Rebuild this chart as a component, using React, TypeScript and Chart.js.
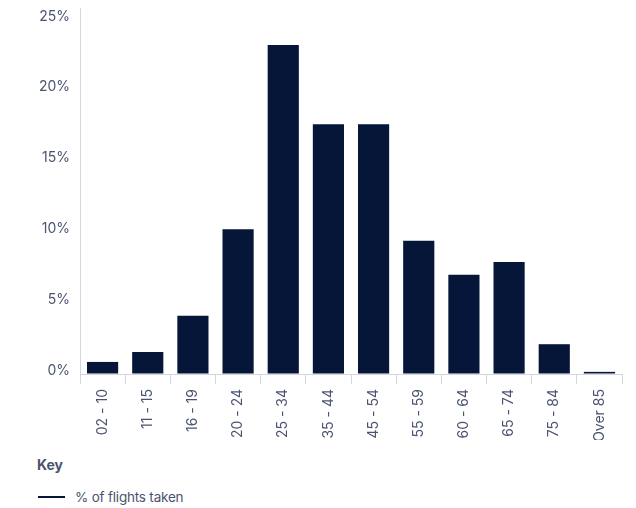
import React, { useEffect, useRef } from "react";
import { Chart, registerables } from "chart.js";

Chart.register(...registerables);

const categories = ["02 - 10", "11 - 15", "16 - 19", "20 - 24", "25 - 34", "35 - 44", "45 - 54", "55 - 59", "60 - 64", "65 - 74", "75 - 84", "Over 85"];
const flightShare = [0.85, 1.55, 4.1, 10.2, 23.2, 17.6, 17.6, 9.4, 7.0, 7.9, 2.1, 0.15];
const yTicks = [0, 5, 10, 15, 20, 25];
const seriesLabel = "% of flights taken";

const NAVY = "#051638";
const TEXT = "#4b5370";
const GRID = "#d3d6de";
const FONT = "Inter, 'Noto Sans', sans-serif";

export default function App() {
  const ref = useRef<HTMLCanvasElement>(null);
  useEffect(() => {
    const chart = new Chart(ref.current!, {
      type: "bar",
      data: {
        labels: categories,
        datasets: [
          {
            label: seriesLabel,
            data: flightShare,
            backgroundColor: NAVY,
            barPercentage: 0.69,
            categoryPercentage: 1,
          },
        ],
      },
      options: {
        animation: false,
        responsive: false,
        maintainAspectRatio: false,
        layout: { padding: { top: 8, right: 14, left: 0, bottom: 0 } },
        plugins: { legend: { display: false }, tooltip: { enabled: false } },
        scales: {
          x: {
            grid: { display: true, drawOnChartArea: false, drawTicks: true, tickLength: 10, color: GRID, offset: true },
            border: { display: true, color: GRID, width: 1 },
            ticks: { color: TEXT, font: { family: FONT, size: 14 }, maxRotation: 90, minRotation: 90, padding: 5, autoSkip: false },
            afterFit: (s: any) => { s.height = 66; },
          },
          y: {
            min: 0,
            max: 25.8,
            grid: { display: true, drawOnChartArea: false, drawTicks: false, color: GRID },
            border: { display: true, color: GRID, width: 1 },
            afterBuildTicks: (s: any) => { s.ticks = yTicks.map((v) => ({ value: v })); },
            ticks: { color: TEXT, font: { family: FONT, size: 14 }, padding: 10, labelOffset: -3, callback: (v: any) => v + "%" },
            afterFit: (s: any) => { s.width = 80; s.paddingTop = 0; },
          },
        },
      },
    });
    return () => chart.destroy();
  }, []);

  return (
    <div style={{ position: "absolute", left: 0, top: 0, width: 636, height: 508, background: "#fff", fontFamily: FONT }}>
      <canvas ref={ref} width={636} height={440} style={{ display: "block" }} />
      <div style={{ position: "absolute", left: 37, top: 456, fontSize: 14, fontWeight: 700, color: TEXT }}>Key</div>
      <div style={{ position: "absolute", left: 38, top: 489, display: "flex", alignItems: "center", fontSize: 13.5, color: TEXT, letterSpacing: -0.2 }}>
        <span style={{ display: "inline-block", width: 27, height: 2, background: NAVY, marginRight: 10 }} />
        <span>{seriesLabel}</span>
      </div>
    </div>
  );
}
